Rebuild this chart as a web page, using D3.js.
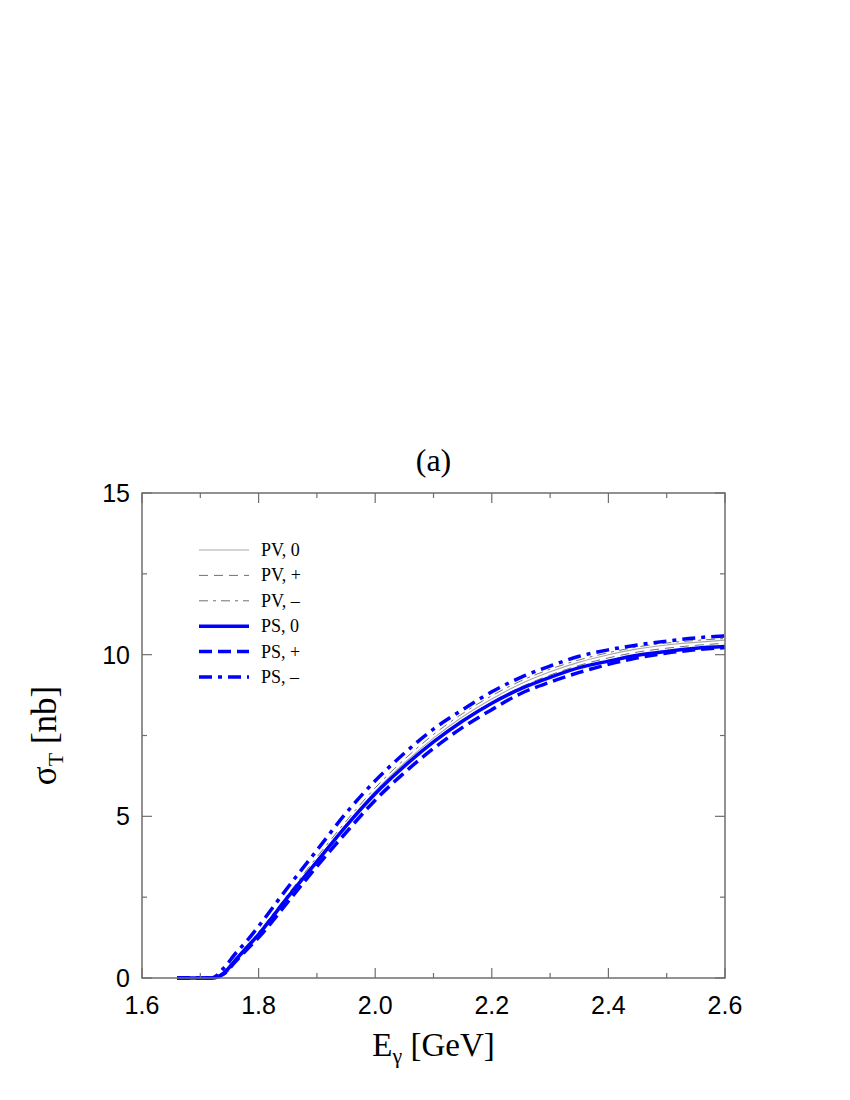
<!DOCTYPE html>
<html>
<head>
<meta charset="utf-8">
<script src="https://cdn.jsdelivr.net/npm/d3@7"></script>
<style>
  body { margin: 0; background: #fff; }
  svg { display: block; }
</style>
</head>
<body>
<div id="chart"></div>
<script>
// energies [GeV]
const energias = [1.66, 1.70, 1.72, 1.74, 1.76, 1.78, 1.80, 1.85, 1.90, 1.95, 2.00, 2.05, 2.10, 2.15, 2.20, 2.25, 2.30, 2.35, 2.40, 2.45, 2.50, 2.55, 2.60];

// sigma_T [nb]
const pv0     = [0, 0, 0, 0.10, 0.50, 0.92, 1.35, 2.50, 3.65, 4.75, 5.78, 6.65, 7.42, 8.08, 8.63, 9.10, 9.47, 9.77, 10.00, 10.18, 10.30, 10.38, 10.45];
const pvMas   = [0, 0, 0, 0.08, 0.46, 0.88, 1.30, 2.44, 3.58, 4.66, 5.68, 6.55, 7.32, 7.98, 8.53, 9.00, 9.37, 9.67, 9.90, 10.08, 10.20, 10.29, 10.35];
const pvMenos = [0, 0, 0, 0.14, 0.56, 0.98, 1.42, 2.58, 3.74, 4.85, 5.88, 6.76, 7.53, 8.18, 8.73, 9.19, 9.55, 9.84, 10.06, 10.24, 10.36, 10.44, 10.50];
const ps0     = [0, 0, 0, 0.15, 0.55, 0.95, 1.35, 2.50, 3.60, 4.70, 5.70, 6.55, 7.30, 7.95, 8.50, 8.95, 9.30, 9.60, 9.80, 9.98, 10.10, 10.20, 10.25];
const psMas   = [0, 0, 0, 0.12, 0.50, 0.88, 1.25, 2.35, 3.45, 4.50, 5.50, 6.35, 7.10, 7.75, 8.30, 8.80, 9.15, 9.45, 9.70, 9.90, 10.05, 10.15, 10.22];
const psMenos = [0, 0, 0, 0.30, 0.75, 1.15, 1.60, 2.80, 3.95, 5.10, 6.10, 6.95, 7.70, 8.30, 8.85, 9.30, 9.65, 9.95, 10.15, 10.30, 10.42, 10.52, 10.58];

const etiquetas = ["PV, 0", "PV, +", "PV, \u2013", "PS, 0", "PS, +", "PS, \u2013"];
const xTicks = [1.6, 1.8, 2.0, 2.2, 2.4, 2.6];
const yTicks = [0, 5, 10, 15];

const width = 850, height = 1100;
const margen = { left: 142, right: 125, top: 493, bottom: 122 };

const svg = d3.select("#chart").append("svg")
  .attr("width", width)
  .attr("height", height);

const x = d3.scaleLinear().domain([1.6, 2.6]).range([margen.left, width - margen.right]);
const y = d3.scaleLinear().domain([0, 15]).range([height - margen.bottom, margen.top]);

const colorEje = "#6e6e6e";

// curves
const estilos = [
  { datos: pv0,     color: "#a8a8a8", ancho: 1.1, dash: null },
  { datos: pvMas,   color: "#707070", ancho: 1.0, dash: "9,6" },
  { datos: pvMenos, color: "#707070", ancho: 1.0, dash: "9,5,3,5" },
  { datos: ps0,     color: "#0000ff", ancho: 3.5, dash: null },
  { datos: psMas,   color: "#0000ff", ancho: 3.5, dash: "13,6" },
  { datos: psMenos, color: "#0000ff", ancho: 3.5, dash: "13,6,4,6" }
];

const linea = d3.line()
  .x((d, i) => x(energias[i]))
  .y(d => y(d))
  .curve(d3.curveMonotoneX);

const g = svg.append("g");
estilos.forEach(s => {
  g.append("path")
    .datum(s.datos)
    .attr("d", linea)
    .attr("fill", "none")
    .attr("stroke", s.color)
    .attr("stroke-width", s.ancho)
    .attr("stroke-dasharray", s.dash);
});

// frame
const x0 = x.range()[0], x1 = x.range()[1];
const yb = y.range()[0], yt = y.range()[1];
svg.append("rect")
  .attr("x", x0).attr("y", yt)
  .attr("width", x1 - x0).attr("height", yb - yt)
  .attr("fill", "none")
  .attr("stroke", colorEje)
  .attr("stroke-width", 1.5);

// ticks, inward on all sides
const menoresX = d3.range(1.6, 2.6001, 0.1);
const menoresY = d3.range(0, 15.001, 2.5);
const ticks = svg.append("g").attr("stroke", colorEje).attr("stroke-width", 1.2);
menoresX.forEach(v => {
  const mayor = xTicks.some(t => Math.abs(t - v) < 1e-6);
  const L = mayor ? 10 : 5;
  ticks.append("line").attr("x1", x(v)).attr("x2", x(v)).attr("y1", yb).attr("y2", yb - L);
  ticks.append("line").attr("x1", x(v)).attr("x2", x(v)).attr("y1", yt).attr("y2", yt + L);
});
menoresY.forEach(v => {
  const mayor = yTicks.includes(v);
  const L = mayor ? 10 : 5;
  ticks.append("line").attr("x1", x0).attr("x2", x0 + L).attr("y1", y(v)).attr("y2", y(v));
  ticks.append("line").attr("x1", x1).attr("x2", x1 - L).attr("y1", y(v)).attr("y2", y(v));
});

// tick labels
svg.append("g").selectAll("text")
  .data(xTicks).enter().append("text")
  .attr("x", d => x(d))
  .attr("y", yb + 36)
  .attr("text-anchor", "middle")
  .attr("font-family", "Liberation Sans, Arial, sans-serif")
  .attr("font-size", 25)
  .text(d => d.toFixed(1));

svg.append("g").selectAll("text")
  .data(yTicks).enter().append("text")
  .attr("x", x0 - 12)
  .attr("y", d => y(d) + 9)
  .attr("text-anchor", "end")
  .attr("font-family", "Liberation Sans, Arial, sans-serif")
  .attr("font-size", 25)
  .text(d => d);

// title
svg.append("text")
  .attr("x", (x0 + x1) / 2)
  .attr("y", 471)
  .attr("text-anchor", "middle")
  .attr("font-family", "Liberation Serif, Times New Roman, serif")
  .attr("font-size", 32)
  .text("(a)");

// x label
const xl = svg.append("text")
  .attr("x", (x0 + x1) / 2)
  .attr("y", 1056)
  .attr("text-anchor", "middle")
  .attr("font-family", "Liberation Serif, Times New Roman, serif")
  .attr("font-size", 33);
xl.append("tspan").text("E");
xl.append("tspan").attr("font-size", 22).attr("dy", 7).text("\u03b3");
xl.append("tspan").attr("dy", -7).text(" [GeV]");

// y label
const yl = svg.append("text")
  .attr("transform", `translate(56, ${(yt + yb) / 2}) rotate(-90)`)
  .attr("text-anchor", "middle")
  .attr("font-family", "Liberation Serif, Times New Roman, serif")
  .attr("font-size", 35);
yl.append("tspan").text("\u03c3");
yl.append("tspan").attr("font-size", 22).attr("dy", 7).text("T");
yl.append("tspan").attr("dy", -7).text(" [nb]");

// legend
const leyenda = svg.append("g");
estilos.forEach((s, i) => {
  const yy = 550 + i * 25.4;
  leyenda.append("line")
    .attr("x1", 199).attr("x2", 249)
    .attr("y1", yy).attr("y2", yy)
    .attr("stroke", s.color)
    .attr("stroke-width", s.ancho)
    .attr("stroke-dasharray", s.dash);
  leyenda.append("text")
    .attr("x", 261)
    .attr("y", yy + 6)
    .attr("font-family", "Liberation Serif, Times New Roman, serif")
    .attr("font-size", 18)
    .text(etiquetas[i]);
});
</script>
</body>
</html>
